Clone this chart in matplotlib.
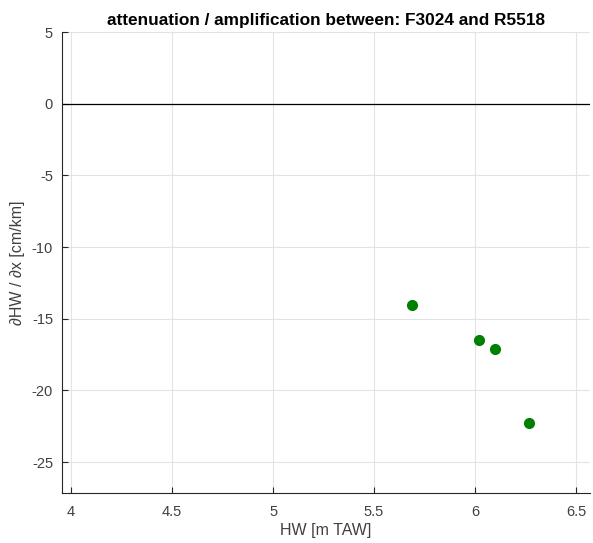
import matplotlib
matplotlib.use("Agg")
import matplotlib.pyplot as plt

hw = [5.686, 6.02, 6.10, 6.27]
dhw_dx = [-14.07, -16.51, -17.09, -22.26]
xticks = [4, 4.5, 5, 5.5, 6, 6.5]
yticks = [5, 0, -5, -10, -15, -20, -25]
title = "attenuation / amplification between: F3024 and R5518"

plt.rcParams['font.family'] = ['Liberation Sans', 'DejaVu Sans']

fig = plt.figure(figsize=(5.93, 5.43), dpi=100)
ax = fig.add_axes([0.1046, 0.0921, 0.8904, 0.8489])

ax.axhline(0, color='black', lw=0.9, zorder=2)
ax.plot(hw, dhw_dx, 'o', color='#008000', markersize=7, zorder=3)

ax.set_xlim(3.955, 6.57)
ax.set_ylim(-27.15, 5)
ax.set_xticks(xticks)
ax.set_xticklabels([f"{t:g}" for t in xticks])
ax.set_yticks(yticks)
ax.set_yticklabels([f"{t:g}" for t in yticks])
ax.grid(True, color='#e3e3e3', lw=0.8)
ax.set_axisbelow(True)

for s in ['top', 'right']:
    ax.spines[s].set_visible(False)
for s in ['left', 'bottom']:
    ax.spines[s].set_color('#262626')
    ax.spines[s].set_linewidth(0.8)
ax.tick_params(direction='in', length=4, width=0.8, colors='#262626',
               labelsize=10.5, labelcolor='#404040')
ax.tick_params(axis='x', pad=8.5)
ax.tick_params(axis='y', pad=6.5)

ax.set_xlabel("HW [m TAW]", fontsize=11.5, color='#404040', labelpad=3)
ax.set_ylabel("∂HW / ∂x [cm/km]", fontsize=11.5, color='#404040', labelpad=5)
ax.set_title(title, fontsize=12.4, fontweight='bold', pad=5)

fig.savefig("out.png", dpi=100)
